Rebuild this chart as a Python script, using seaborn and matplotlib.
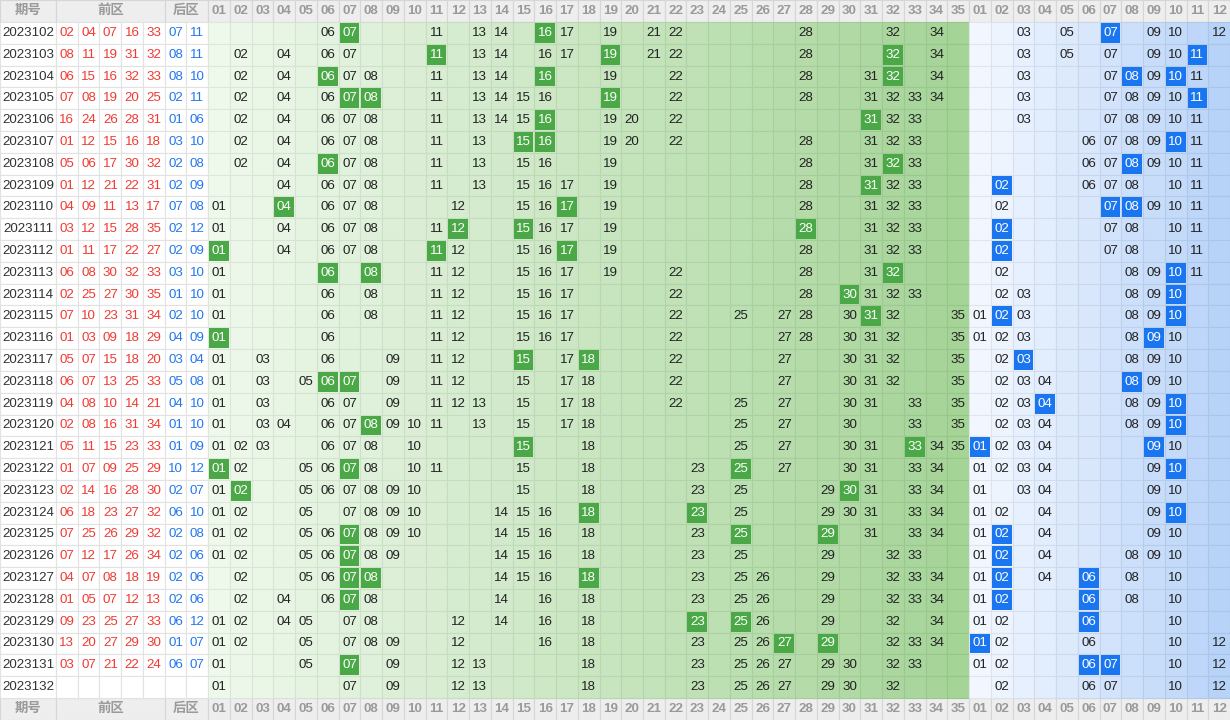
import matplotlib
matplotlib.use("Agg")
import matplotlib.pyplot as plt
from matplotlib.patches import Rectangle
from matplotlib.colors import to_rgb
import seaborn as sns
import numpy as np

sns.set_theme(style="white")
plt.rcParams["font.family"] = ["Liberation Sans", "Noto Sans CJK SC", "DejaVu Sans"]

periods = [str(p) for p in range(2023102, 2023133)]

front_draw = [
    "02 04 07 16 33", "08 11 19 31 32", "06 15 16 32 33", "07 08 19 20 25",
    "16 24 26 28 31", "01 12 15 16 18", "05 06 17 30 32", "01 12 21 22 31",
    "04 09 11 13 17", "03 12 15 28 35", "01 11 17 22 27", "06 08 30 32 33",
    "02 25 27 30 35", "07 10 23 31 34", "01 03 09 18 29", "05 07 15 18 20",
    "06 07 13 25 33", "04 08 10 14 21", "02 08 16 31 34", "05 11 15 23 33",
    "01 07 09 25 29", "02 14 16 28 30", "06 18 23 27 32", "07 25 26 29 32",
    "07 12 17 26 34", "04 07 08 18 19", "01 05 07 12 13", "09 23 25 27 33",
    "13 20 27 29 30", "03 07 21 22 24", "",
]
back_draw = [
    "07 11", "08 11", "08 10", "02 11", "01 06", "03 10", "02 08", "02 09",
    "07 08", "02 12", "02 09", "03 10", "01 10", "02 10", "04 09", "03 04",
    "05 08", "04 10", "01 10", "01 09", "10 12", "02 07", "06 10", "02 08",
    "02 06", "02 06", "02 06", "06 12", "01 07", "06 07", "",
]

# numbers shown in the front-zone grid per row, and the highlighted ones
front_shown = [
    "06 07 11 13 14 16 17 19 21 22 28 32 34",
    "02 04 06 07 11 13 14 16 17 19 21 22 28 32 34",
    "02 04 06 07 08 11 13 14 16 19 22 28 31 32 34",
    "02 04 06 07 08 11 13 14 15 16 19 22 28 31 32 33 34",
    "02 04 06 07 08 11 13 14 15 16 19 20 22 31 32 33",
    "02 04 06 07 08 11 13 15 16 19 20 22 28 31 32 33",
    "02 04 06 07 08 11 13 15 16 19 28 31 32 33",
    "04 06 07 08 11 13 15 16 17 19 28 31 32 33",
    "01 04 06 07 08 12 15 16 17 19 28 31 32 33",
    "01 04 06 07 08 11 12 15 16 17 19 28 31 32 33",
    "01 04 06 07 08 11 12 15 16 17 19 28 31 32 33",
    "01 06 08 11 12 15 16 17 19 22 28 31 32",
    "01 06 08 11 12 15 16 17 22 28 30 31 32 33",
    "01 06 08 11 12 15 16 17 22 25 27 28 30 31 32 35",
    "01 06 11 12 15 16 17 22 27 28 30 31 32 35",
    "01 03 06 09 11 12 15 17 18 22 27 30 31 32 35",
    "01 03 05 06 07 09 11 12 15 17 18 22 27 30 31 32 35",
    "01 03 06 07 09 11 12 13 15 17 18 22 25 27 30 31 33 35",
    "01 03 04 06 07 08 09 10 11 13 15 17 18 25 27 30 33 35",
    "01 02 03 06 07 08 10 15 18 25 27 30 31 33 34 35",
    "01 02 05 06 07 08 10 11 15 18 23 25 27 30 31 33 34",
    "01 02 05 06 07 08 09 10 15 18 23 25 29 30 31 33 34",
    "01 02 05 07 08 09 10 14 15 16 18 23 25 29 30 31 33 34",
    "01 02 05 06 07 08 09 10 14 15 16 18 23 25 29 31 33 34",
    "01 02 05 06 07 08 09 14 15 16 18 23 25 29 32 33",
    "02 05 06 07 08 14 15 16 18 23 25 26 29 32 33 34",
    "02 04 06 07 08 14 16 18 23 25 26 29 32 33 34",
    "01 02 04 05 07 08 12 14 16 18 23 25 26 29 32 34",
    "01 02 05 07 08 09 12 16 18 23 25 26 27 29 32 33 34",
    "01 05 07 09 12 13 18 23 25 26 27 29 30 32 33",
    "01 07 09 12 13 18 23 25 26 27 29 30 32",
]
front_hit = [
    "07 16", "11 19 32", "06 16 32", "07 08 19", "16 31", "15 16", "06 32",
    "31", "04 17", "12 15 28", "01 11 17", "06 08 32", "30", "31", "01",
    "15 18", "06 07", "", "08", "15 33", "01 07 25", "02 30", "18 23",
    "07 25 29", "07", "07 08 18", "07", "23 25", "27 29", "07", "",
]
back_shown = [
    "03 05 07 09 10 12", "03 05 07 09 10 11", "03 07 08 09 10 11",
    "03 07 08 09 10 11", "03 07 08 09 10 11", "06 07 08 09 10 11",
    "06 07 08 09 10 11", "02 06 07 08 10 11", "02 07 08 09 10 11",
    "02 07 08 10 11", "02 07 08 10 11", "02 08 09 10 11", "02 03 08 09 10",
    "01 02 03 08 09 10", "01 02 03 08 09 10", "02 03 08 09 10",
    "02 03 04 08 09 10", "02 03 04 08 09 10", "02 03 04 08 09 10",
    "01 02 03 04 09 10", "01 02 03 04 09 10", "01 03 04 09 10",
    "01 02 04 09 10", "01 02 04 09 10", "01 02 04 08 09 10",
    "01 02 04 06 08 10", "01 02 06 08 10", "01 02 06 10", "01 02 06 10 12",
    "01 02 06 07 10 12", "02 06 07 10 12",
]
back_hit = [
    "07", "11", "08 10", "11", "", "10", "08", "02", "07 08", "02", "02",
    "10", "10", "02 10", "09", "03", "08", "04 10", "10", "01 09", "10", "",
    "10", "02", "02", "02 06", "02 06", "06", "01", "06 07", "",
]

# ---- layout (pixel units) ----
W, H = 1230, 720
head_h = 22
first_w = 56
cw = (W - first_w) / 54
rh = (H - 2 * head_h) / len(periods)

fig = plt.figure(figsize=(12.3, 7.2), dpi=100)
ax = fig.add_axes([0, 0, 1, 1])
ax.set_xlim(0, W)
ax.set_ylim(H, 0)
ax.axis("off")

def mix(c1, c2, t):
    a, b = np.array(to_rgb(c1)), np.array(to_rgb(c2))
    return tuple(a + (b - a) * t)

def darker(c, f=0.93):
    return tuple(np.array(c) * f)

def col_x(i):
    return first_w + i * cw

green_fill = [mix("#eef8eb", "#a5d497", i / 34) for i in range(35)]
blue_fill = [mix("#f2f7ff", "#b8d3f8", i / 11) for i in range(12)]

GREEN_HI = "#4aa946"
BLUE_HI = "#1a75f0"
RED = "#f03a32"
BLUE_TXT = "#2377f0"
FS = 9.6

def header_row(y0):
    grey = "#eeeeee"
    spans = [(0, first_w, "期号"), (col_x(0), 5 * cw, "前区"), (col_x(5), 2 * cw, "后区")]
    for k in range(35):
        spans.append((col_x(7 + k), cw, f"{k + 1:02d}"))
    for k in range(12):
        spans.append((col_x(42 + k), cw, f"{k + 1:02d}"))
    for x0, w, t in spans:
        ax.add_patch(Rectangle((x0, y0), w, head_h, facecolor=grey,
                               edgecolor="#d6d6d6", lw=0.8))
        ax.text(x0 + w / 2, y0 + head_h / 2, t, ha="center", va="center",
                fontsize=FS, color="#9a9a9a", fontweight="bold")

header_row(0)
header_row(H - head_h)

for r, p in enumerate(periods):
    y0 = head_h + r * rh
    yc = y0 + rh / 2
    ax.add_patch(Rectangle((0, y0), first_w, rh, facecolor="white", edgecolor="#e2e2e2", lw=0.8))
    ax.text(first_w / 2, yc, p, ha="center", va="center", fontsize=FS, color="#333333")
    fd = front_draw[r].split()
    bd = back_draw[r].split()
    for k in range(7):
        x0 = col_x(k)
        ax.add_patch(Rectangle((x0, y0), cw, rh, facecolor="white", edgecolor="#e2e2e2", lw=0.8))
        if k < 5 and fd:
            ax.text(x0 + cw / 2, yc, fd[k], ha="center", va="center", fontsize=FS, color=RED)
        elif k >= 5 and bd:
            ax.text(x0 + cw / 2, yc, bd[k - 5], ha="center", va="center", fontsize=FS, color=BLUE_TXT)

    zones = [(7, 35, green_fill, front_shown[r], front_hit[r], GREEN_HI),
             (42, 12, blue_fill, back_shown[r], back_hit[r], BLUE_HI)]
    for start, n, fills, shown, hit, hi_col in zones:
        shown, hit = set(shown.split()), set(hit.split())
        for k in range(n):
            x0 = col_x(start + k)
            fc = fills[k]
            ax.add_patch(Rectangle((x0, y0), cw, rh, facecolor=fc, edgecolor=darker(fc), lw=0.8))
            lab = f"{k + 1:02d}"
            if lab in hit:
                ax.add_patch(Rectangle((x0 + 1, y0 + 1), cw - 2, rh - 2,
                                       facecolor=hi_col, edgecolor="none"))
                ax.text(x0 + cw / 2, yc, lab, ha="center", va="center",
                        fontsize=FS, color="white")
            elif lab in shown:
                ax.text(x0 + cw / 2, yc, lab, ha="center", va="center",
                        fontsize=FS, color="#222222")

fig.savefig("out.png", dpi=100)
